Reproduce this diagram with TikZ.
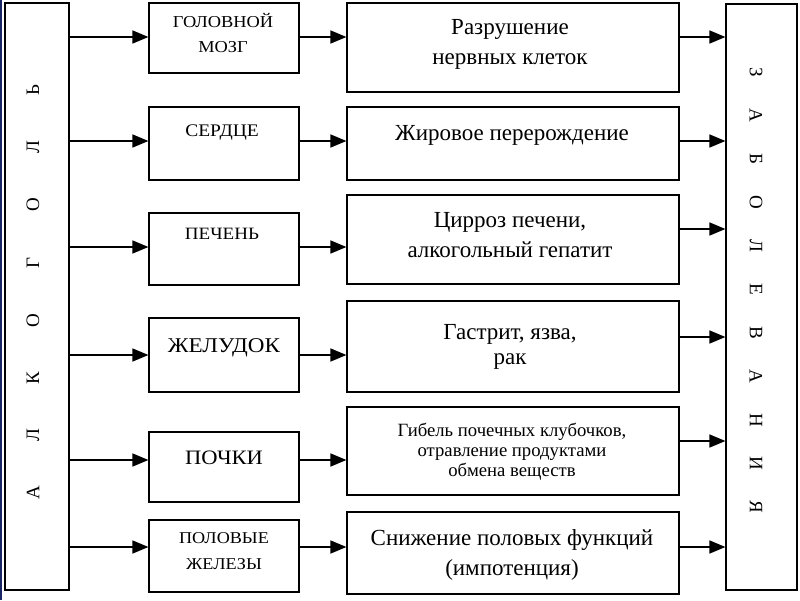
\documentclass[tikz,border=0pt]{standalone}
\usepackage{fontspec}
\setmainfont{Liberation Serif}
\newfontfamily\widefont[FakeStretch=1.1]{Liberation Serif}
\usetikzlibrary{arrows.meta}
\begin{document}
\begin{tikzpicture}[x=1pt,y=-1pt,
  box/.style={draw,line width=1.8pt,inner sep=0pt,outer sep=0pt},
  arr/.style={line width=1.6pt,-{Triangle[length=16pt,width=13pt]},shorten >=0.6pt},
  otext/.style={align=center,inner sep=0pt,font=\widefont\fontsize{17.7}{25}\selectfont},
  etext/.style={align=center,inner sep=0pt,font=\fontsize{23}{30}\selectfont},
  lett/.style={inner sep=0pt,font=\fontsize{19}{19}\selectfont}]
\useasboundingbox (0,0) rectangle (800,600);
\fill[white] (0,0) rectangle (800,600);
\draw[line width=1.6pt,color={rgb,255:red,25;green,40;blue,100}] (0.8,0) -- (0.8,600);
% side boxes
\node[box,minimum width=64pt,minimum height=587pt] (L) at (37,296.5) {};
\node[box,minimum width=71pt,minimum height=586pt] (R) at (761.5,297) {};
% organ boxes
\node[box,minimum width=150pt,minimum height=70pt] (O1) at (224,38) {};
\node[box,minimum width=150pt,minimum height=73pt] (O2) at (224,143.5) {};
\node[box,minimum width=150pt,minimum height=72pt] (O3) at (224,249) {};
\node[box,minimum width=150pt,minimum height=74pt] (O4) at (224,355) {};
\node[box,minimum width=150pt,minimum height=70pt] (O5) at (224,467) {};
\node[box,minimum width=150pt,minimum height=72pt] (O6) at (224,556) {};
% effect boxes
\node[box,minimum width=332pt,minimum height=89pt] (E1) at (513,47.5) {};
\node[box,minimum width=332pt,minimum height=73pt] (E2) at (513,143.5) {};
\node[box,minimum width=332pt,minimum height=89pt] (E3) at (513,239.5) {};
\node[box,minimum width=332pt,minimum height=91pt] (E4) at (513,346.5) {};
\node[box,minimum width=332pt,minimum height=88pt] (E5) at (513,451) {};
\node[box,minimum width=332pt,minimum height=82pt] (E6) at (513,553) {};
% organ texts
\node[otext,font=\widefont\fontsize{16.7}{25}\selectfont] (t1) at (223,33) {ГОЛОВНОЙ\\МОЗГ};
\node[otext] (t2) at (222,133) {СЕРДЦЕ};
\node[otext,font=\widefont\fontsize{17.3}{25}\selectfont] (t3) at (222,234) {ПЕЧЕНЬ};
\node[otext,font=\widefont\fontsize{21}{25}\selectfont] (t4) at (224,348) {ЖЕЛУДОК};
\node[otext,font=\widefont\fontsize{20.5}{25}\selectfont] (t5) at (224,458) {ПОЧКИ};
\node[otext,font=\widefont\fontsize{16.5}{26}\selectfont] (t6) at (224,551) {ПОЛОВЫЕ\\ЖЕЛЕЗЫ};
% effect texts
\node[etext] (e1) at (510,44.5) {Разрушение\\нервных клеток};
\node[etext] (e2) at (512,135) {Жировое перерождение};
\node[etext] (e3) at (510,235) {Цирроз печени,\\алкогольный гепатит};
\node[etext,font=\fontsize{23}{25}\selectfont] (e4) at (510,347) {Гастрит, язва,\\рак};
\node[etext,font=\fontsize{18.7}{20}\selectfont] (e5) at (512,452) {Гибель почечных клубочков,\\отравление продуктами\\обмена веществ};
\node[etext] (e6) at (512,555) {Снижение половых функций\\(импотенция)};
% vertical letters
\foreach \ch [count=\i] in {А,Л,К,О,Г,О,Л,Ь}
  \node[lett,rotate=90] (a\i) at (33,{493-(\i-1)*57.6}) {\ch};
\foreach \ch [count=\i] in {З,А,Б,О,Л,Е,В,А,Н,И,Я}
  \node[lett,rotate=-90] (z\i) at (756,{72+(\i-1)*43.5}) {\ch};
% arrows left -> organs
\draw[arr] (L.east |- 0,37) -- (O1.west |- 0,37);
\draw[arr] (L.east |- 0,141) -- (O2.west |- 0,141);
\draw[arr] (L.east |- 0,247) -- (O3.west |- 0,247);
\draw[arr] (L.east |- 0,355) -- (O4.west |- 0,355);
\draw[arr] (L.east |- 0,460) -- (O5.west |- 0,460);
\draw[arr] (L.east |- 0,547) -- (O6.west |- 0,547);
% arrows organs -> effects
\draw[arr] (O1.east |- 0,37) -- (E1.west |- 0,37);
\draw[arr] (O2.east |- 0,141) -- (E2.west |- 0,141);
\draw[arr] (O3.east |- 0,247) -- (E3.west |- 0,247);
\draw[arr] (O4.east |- 0,355) -- (E4.west |- 0,355);
\draw[arr] (O5.east |- 0,460) -- (E5.west |- 0,460);
\draw[arr] (O6.east |- 0,547) -- (E6.west |- 0,547);
% arrows effects -> diseases
\draw[arr] (E1.east |- 0,37) -- (R.west |- 0,37);
\draw[arr] (E2.east |- 0,141) -- (R.west |- 0,141);
\draw[arr] (E3.east |- 0,229) -- (R.west |- 0,229);
\draw[arr] (E4.east |- 0,337) -- (R.west |- 0,337);
\draw[arr] (E5.east |- 0,441) -- (R.west |- 0,441);
\draw[arr] (E6.east |- 0,547) -- (R.west |- 0,547);
\end{tikzpicture}
\end{document}
